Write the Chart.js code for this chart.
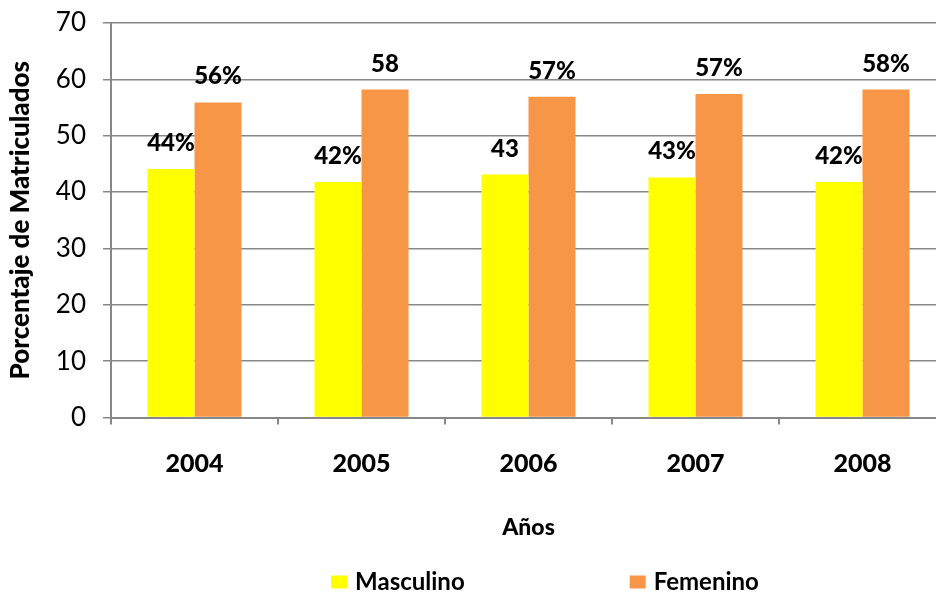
<!DOCTYPE html>
<html>
<head>
<meta charset="utf-8">
<script src="https://cdn.jsdelivr.net/npm/chart.js@4"></script>
<style>
  html, body { margin: 0; padding: 0; background: #fff; overflow: hidden; width: 936px; height: 594px; }
  #wrap { position: relative; width: 960px; height: 594px; }
</style>
</head>
<body>
<div id="wrap"><canvas id="c" width="960" height="594"></canvas></div>
<script>
const categories = ["2004", "2005", "2006", "2007", "2008"];
const seriesNames = ["Masculino", "Femenino"];
const masculino = [44.1, 41.8, 43.1, 42.6, 41.8];
const femenino = [55.9, 58.2, 56.9, 57.4, 58.2];
const masculinoLabels = ["44%", "42%", "43", "43%", "42%"];
const femeninoLabels = ["56%", "58", "57%", "57%", "58%"];
const yTicks = [0, 10, 20, 30, 40, 50, 60, 70];
const yTitle = "Porcentaje de Matriculados";
const xTitle = "Años";

const FONT = "Lato";
const GRID = "#878787";

const dataLabelPlugin = {
  id: "dataLabels",
  afterDatasetsDraw(chart) {
    const ctx = chart.ctx;
    const labelSets = [masculinoLabels, femeninoLabels];
    ctx.save();
    ctx.font = "900 24px " + FONT;
    ctx.fillStyle = "#000";
    ctx.textAlign = "center";
    ctx.textBaseline = "alphabetic";
    chart.data.datasets.forEach((ds, di) => {
      const meta = chart.getDatasetMeta(di);
      meta.data.forEach((bar, i) => {
        ctx.fillText(labelSets[di][i], bar.x, bar.y - 18);
      });
    });
    ctx.restore();
  }
};

const legendPlugin = {
  id: "customLegend",
  afterDraw(chart) {
    const ctx = chart.ctx;
    ctx.save();
    ctx.font = "bold 24px " + FONT;
    ctx.textBaseline = "middle";
    ctx.textAlign = "left";
    const boxW = 16, boxH = 13, gapBox = 8, gapItem = 165;
    const items = chart.data.datasets.map(d => ({ text: d.label, color: d.backgroundColor }));
    const widths = items.map(it => boxW + gapBox + ctx.measureText(it.text).width);
    const total = widths.reduce((a, b) => a + b, 0) + gapItem * (items.length - 1);
    let x = 545 - total / 2;
    const cy = 582;
    items.forEach((it, i) => {
      ctx.fillStyle = it.color;
      ctx.fillRect(x, cy - boxH / 2, boxW, boxH);
      ctx.fillStyle = "#000";
      ctx.fillText(it.text, x + boxW + gapBox, cy);
      x += widths[i] + gapItem;
    });
    ctx.restore();
  }
};

new Chart(document.getElementById("c"), {
  type: "bar",
  data: {
    labels: categories,
    datasets: [
      { label: seriesNames[0], data: masculino, backgroundColor: "#FFFF00", categoryPercentage: 0.563, barPercentage: 1.0 },
      { label: seriesNames[1], data: femenino, backgroundColor: "#F79646", categoryPercentage: 0.563, barPercentage: 1.0 }
    ]
  },
  options: {
    responsive: false,
    animation: false,
    events: [],
    layout: { padding: { top: 23, right: 14, bottom: 53, left: 0 } },
    plugins: {
      legend: { display: false },
      tooltip: { enabled: false }
    },
    scales: {
      x: {
        offset: true,
        afterFit: s => { s.height = 594 - 53 - 417.5; s.paddingLeft = 0; s.paddingRight = 0; },
        grid: { offset: true, drawOnChartArea: false, drawTicks: true, tickLength: 7, color: GRID, lineWidth: 2 },
        border: { display: true, color: GRID, width: 2 },
        ticks: { color: "#000", font: { family: FONT, size: 25, weight: "900" }, padding: 24, maxRotation: 0 },
        title: { display: true, text: xTitle, color: "#000", font: { family: FONT, size: 23, weight: "900", lineHeight: 1.2 }, padding: { top: 0, bottom: 0 } }
      },
      y: {
        min: 0, max: 70,
        afterFit: s => { s.width = 111; s.paddingTop = 0; s.paddingBottom = 0; },
        afterBuildTicks: s => { s.ticks = yTicks.map(v => ({ value: v })); },
        grid: { color: GRID, lineWidth: 1.5, drawTicks: true, tickLength: 8 },
        border: { display: true, color: GRID, width: 2 },
        ticks: { color: "#000", font: { family: FONT, size: 26 }, padding: 17 },
        title: { display: true, text: yTitle, color: "#000", font: { family: FONT, size: 26, weight: "900", lineHeight: 1.2 }, padding: { top: 5, bottom: 0 } }
      }
    }
  },
  plugins: [dataLabelPlugin, legendPlugin]
});
</script>
</body>
</html>
